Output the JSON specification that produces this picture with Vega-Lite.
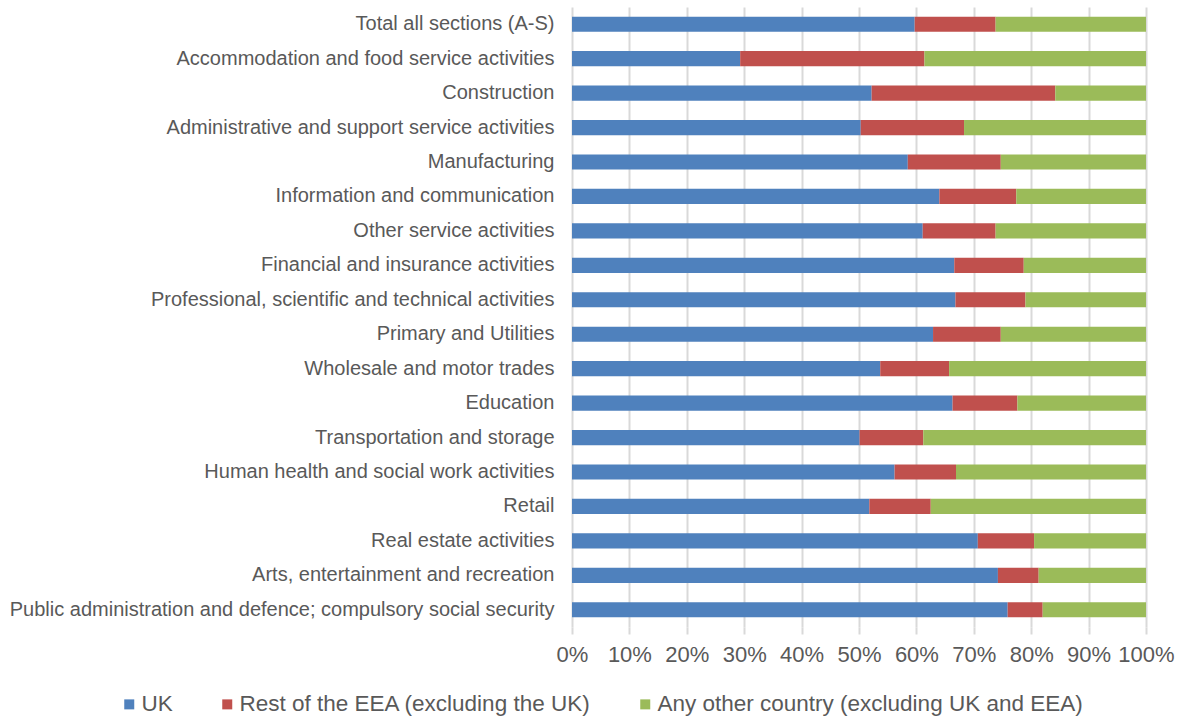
{
  "$schema": "https://vega.github.io/schema/vega-lite/v6.json",
  "autosize": "none",
  "width": 574,
  "height": 620,
  "padding": {"left": 572, "top": 7, "right": 37, "bottom": 90},
  "background": "white",
  "config": {
    "view": {"stroke": null},
    "font": "Liberation Sans",
    "axis": {"labelFont": "Liberation Sans", "labelColor": "#595959"},
    "legend": {"labelFont": "Liberation Sans", "labelColor": "#595959"}
  },
  "data": {
    "values": [
      {"sector": "Total all sections (A-S)", "origin": "UK", "share": 0.597},
      {"sector": "Total all sections (A-S)", "origin": "Rest of the EEA (excluding the UK)", "share": 0.141},
      {"sector": "Total all sections (A-S)", "origin": "Any other country (excluding UK and EEA)", "share": 0.262},
      {"sector": "Accommodation and food service activities", "origin": "UK", "share": 0.293},
      {"sector": "Accommodation and food service activities", "origin": "Rest of the EEA (excluding the UK)", "share": 0.321},
      {"sector": "Accommodation and food service activities", "origin": "Any other country (excluding UK and EEA)", "share": 0.386},
      {"sector": "Construction", "origin": "UK", "share": 0.522},
      {"sector": "Construction", "origin": "Rest of the EEA (excluding the UK)", "share": 0.320},
      {"sector": "Construction", "origin": "Any other country (excluding UK and EEA)", "share": 0.158},
      {"sector": "Administrative and support service activities", "origin": "UK", "share": 0.503},
      {"sector": "Administrative and support service activities", "origin": "Rest of the EEA (excluding the UK)", "share": 0.180},
      {"sector": "Administrative and support service activities", "origin": "Any other country (excluding UK and EEA)", "share": 0.317},
      {"sector": "Manufacturing", "origin": "UK", "share": 0.585},
      {"sector": "Manufacturing", "origin": "Rest of the EEA (excluding the UK)", "share": 0.162},
      {"sector": "Manufacturing", "origin": "Any other country (excluding UK and EEA)", "share": 0.253},
      {"sector": "Information and communication", "origin": "UK", "share": 0.640},
      {"sector": "Information and communication", "origin": "Rest of the EEA (excluding the UK)", "share": 0.134},
      {"sector": "Information and communication", "origin": "Any other country (excluding UK and EEA)", "share": 0.226},
      {"sector": "Other service activities", "origin": "UK", "share": 0.611},
      {"sector": "Other service activities", "origin": "Rest of the EEA (excluding the UK)", "share": 0.127},
      {"sector": "Other service activities", "origin": "Any other country (excluding UK and EEA)", "share": 0.262},
      {"sector": "Financial and insurance activities", "origin": "UK", "share": 0.666},
      {"sector": "Financial and insurance activities", "origin": "Rest of the EEA (excluding the UK)", "share": 0.121},
      {"sector": "Financial and insurance activities", "origin": "Any other country (excluding UK and EEA)", "share": 0.213},
      {"sector": "Professional, scientific and technical activities", "origin": "UK", "share": 0.668},
      {"sector": "Professional, scientific and technical activities", "origin": "Rest of the EEA (excluding the UK)", "share": 0.122},
      {"sector": "Professional, scientific and technical activities", "origin": "Any other country (excluding UK and EEA)", "share": 0.210},
      {"sector": "Primary and Utilities", "origin": "UK", "share": 0.629},
      {"sector": "Primary and Utilities", "origin": "Rest of the EEA (excluding the UK)", "share": 0.118},
      {"sector": "Primary and Utilities", "origin": "Any other country (excluding UK and EEA)", "share": 0.253},
      {"sector": "Wholesale and motor trades", "origin": "UK", "share": 0.537},
      {"sector": "Wholesale and motor trades", "origin": "Rest of the EEA (excluding the UK)", "share": 0.120},
      {"sector": "Wholesale and motor trades", "origin": "Any other country (excluding UK and EEA)", "share": 0.343},
      {"sector": "Education", "origin": "UK", "share": 0.663},
      {"sector": "Education", "origin": "Rest of the EEA (excluding the UK)", "share": 0.113},
      {"sector": "Education", "origin": "Any other country (excluding UK and EEA)", "share": 0.224},
      {"sector": "Transportation and storage", "origin": "UK", "share": 0.501},
      {"sector": "Transportation and storage", "origin": "Rest of the EEA (excluding the UK)", "share": 0.111},
      {"sector": "Transportation and storage", "origin": "Any other country (excluding UK and EEA)", "share": 0.388},
      {"sector": "Human health and social work activities", "origin": "UK", "share": 0.562},
      {"sector": "Human health and social work activities", "origin": "Rest of the EEA (excluding the UK)", "share": 0.107},
      {"sector": "Human health and social work activities", "origin": "Any other country (excluding UK and EEA)", "share": 0.331},
      {"sector": "Retail", "origin": "UK", "share": 0.518},
      {"sector": "Retail", "origin": "Rest of the EEA (excluding the UK)", "share": 0.107},
      {"sector": "Retail", "origin": "Any other country (excluding UK and EEA)", "share": 0.375},
      {"sector": "Real estate activities", "origin": "UK", "share": 0.707},
      {"sector": "Real estate activities", "origin": "Rest of the EEA (excluding the UK)", "share": 0.098},
      {"sector": "Real estate activities", "origin": "Any other country (excluding UK and EEA)", "share": 0.195},
      {"sector": "Arts, entertainment and recreation", "origin": "UK", "share": 0.742},
      {"sector": "Arts, entertainment and recreation", "origin": "Rest of the EEA (excluding the UK)", "share": 0.071},
      {"sector": "Arts, entertainment and recreation", "origin": "Any other country (excluding UK and EEA)", "share": 0.187},
      {"sector": "Public administration and defence; compulsory social security", "origin": "UK", "share": 0.759},
      {"sector": "Public administration and defence; compulsory social security", "origin": "Rest of the EEA (excluding the UK)", "share": 0.061},
      {"sector": "Public administration and defence; compulsory social security", "origin": "Any other country (excluding UK and EEA)", "share": 0.180}
    ]
  },
  "mark": {"type": "bar"},
  "encoding": {
    "y": {
      "field": "sector",
      "type": "nominal",
      "sort": null,
      "scale": {"paddingInner": 0.56, "paddingOuter": 0.28},
      "axis": {
        "title": null,
        "ticks": false,
        "domain": false,
        "labelFontSize": 20,
        "labelPadding": 18,
        "labelLimit": 0
      }
    },
    "x": {
      "field": "share",
      "type": "quantitative",
      "stack": "zero",
      "scale": {"domain": [0, 1], "nice": false},
      "axis": {
        "title": null,
        "format": ".0%",
        "values": [0, 0.1, 0.2, 0.3, 0.4, 0.5, 0.6, 0.7, 0.8, 0.9, 1],
        "grid": true,
        "gridColor": "#D9D9D9",
        "gridWidth": 2,
        "domain": false,
        "ticks": true,
        "tickColor": "#D9D9D9",
        "tickWidth": 2,
        "tickSize": 7,
        "labelFontSize": 22,
        "labelPadding": 10,
        "labelFlush": false
      }
    },
    "color": {
      "field": "origin",
      "type": "nominal",
      "sort": ["UK", "Rest of the EEA (excluding the UK)", "Any other country (excluding UK and EEA)"],
      "scale": {
        "domain": ["UK", "Rest of the EEA (excluding the UK)", "Any other country (excluding UK and EEA)"],
        "range": ["#4F81BD", "#C0504D", "#9BBB59"]
      },
      "legend": {
        "title": null,
        "orient": "none",
        "direction": "horizontal",
        "legendX": -454,
        "legendY": 686,
        "symbolType": "square",
        "symbolSize": 100,
        "symbolStrokeWidth": 0,
        "labelFontSize": 22.5,
        "labelOffset": 1,
        "columnPadding": 43,
        "labelLimit": 0
      }
    },
    "order": {"field": "stackOrder", "type": "quantitative"}
  },
  "transform": [
    {"calculate": "indexof(['UK', 'Rest of the EEA (excluding the UK)', 'Any other country (excluding UK and EEA)'], datum.origin)", "as": "stackOrder"}
  ]
}
